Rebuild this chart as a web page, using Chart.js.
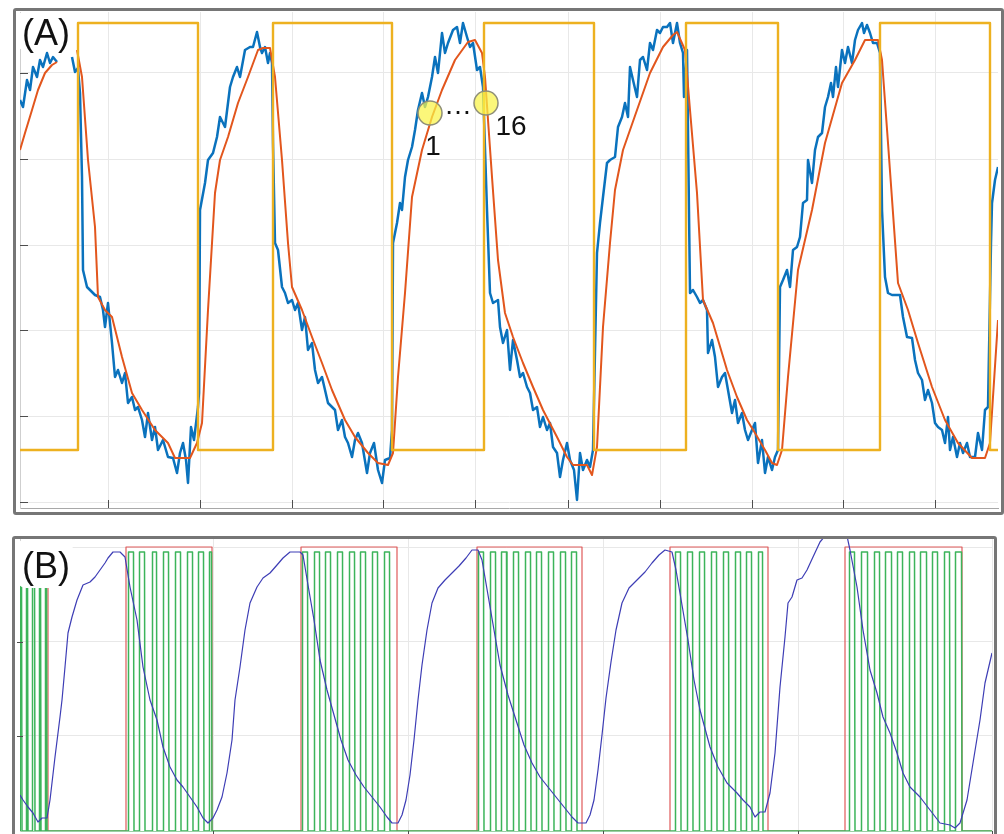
<!DOCTYPE html>
<html>
<head>
<meta charset="utf-8">
<script src="https://cdn.jsdelivr.net/npm/chart.js@4.4.1/dist/chart.umd.min.js"></script>
<style>
html, body { margin:0; padding:0; background:#fff; width:1004px; height:834px; overflow:hidden; position:relative; }
.frame { position:absolute; box-sizing:border-box; border:3px solid #767676; border-radius:3px; background:#fff; }
#frameA { left:13px; top:8px; width:991px; height:507px; }
#frameB { left:12px; top:536px; width:985px; height:320px; }
canvas { position:absolute; left:0; }
#chartA { top:0; }
#chartB { top:520px; }
</style>
</head>
<body>
<div class="frame" id="frameA"></div>
<div class="frame" id="frameB"></div>
<canvas id="chartA" width="1004" height="520"></canvas>
<canvas id="chartB" width="1004" height="314"></canvas>
<script>
// ---- panel A : time axis in samples, amplitude in arbitrary units ----
const xTicksA = [88, 180, 272, 363, 455, 548, 640, 732, 823, 915];
const yTicksA = [0, 86, 172, 257, 343, 429];

// square-wave input: switching times, low / high level
const inputEdgesA = [58, 178, 253, 372, 464, 574, 666, 758, 860, 970];
const inputLowA = 52, inputHighA = 479;

// smoothed model output
const modelA = [[0,352],[5,369],[12,392],[18,412],[25,429],[32,437],[37,440],[47,null],[57,452],[62,425],[68,342],[75,275],[78,205],[85,192],[92,185],[102,145],[112,109],[122,92],[135,72],[148,59],[155,44],[170,44],[177,59],[182,79],[188,192],[195,309],[200,342],[208,365],[218,399],[228,425],[238,452],[243,454],[250,454],[255,425],[262,342],[268,259],[272,215],[282,192],[292,165],[302,139],[312,112],[325,82],[335,65],[348,49],[358,39],[368,37],[373,49],[378,125],[385,209],[392,305],[402,352],[412,385],[422,412],[435,442],[448,460],[455,462],[462,449],[465,425],[472,325],[478,242],[485,189],[493,165],[503,139],[513,115],[523,92],[537,65],[547,45],[553,37],[567,37],[572,27],[577,55],[583,175],[590,259],[595,312],[603,352],[617,392],[630,429],[643,455],[653,467],[657,470],[665,452],[670,392],[677,309],[683,202],[693,179],[707,132],[717,105],[727,82],[735,69],[745,52],[752,39],[757,37],[762,52],[768,125],[778,232],[792,292],[805,359],[822,419],[835,442],[845,462],[858,462],[862,442],[868,359],[878,219],[888,192],[898,159],[912,115],[925,82],[938,59],[952,44],[965,44],[970,59],[978,182]];

// measured (noisy) output
const measuredA = [[0,402],[3,395],[7,422],[10,412],[13,435],[17,425],[20,442],[23,435],[27,449],[30,439],[33,445],[37,440],[45,null],[52,445],[55,430],[58,434],[60,409],[62,325],[63,232],[67,215],[75,207],[80,205],[83,192],[85,175],[88,199],[92,159],[95,125],[98,132],[102,119],[105,129],[108,99],[112,105],[115,92],[118,95],[122,82],[125,65],[128,89],[132,62],[135,75],[138,52],[143,62],[148,45],[153,44],[157,29],[160,49],[163,59],[166,42],[168,19],[171,75],[174,62],[178,95],[179,109],[180,292],[185,319],[188,342],[193,349],[197,365],[200,385],[205,375],[210,415],[213,425],[217,435],[220,425],[225,452],[230,455],[233,455],[237,470],[240,455],[242,449],[245,455],[248,439],[250,449],[252,439],[253,359],[255,259],[258,252],[262,215],[265,209],[268,199],[272,202],[275,192],[278,199],[282,172],[285,185],[288,152],[292,159],[295,132],[298,119],[302,125],[305,112],[308,99],[312,95],[315,92],[318,72],[322,82],[325,65],[328,59],[332,45],[335,62],[338,69],[342,59],[347,29],[350,49],[354,59],[358,32],[362,19],[365,42],[370,44],[372,72],[373,259],[377,279],[380,299],[382,292],[385,325],[388,342],[392,355],[395,372],[398,392],[402,409],[405,395],[408,405],[412,425],[415,445],[418,429],[422,469],[425,449],[428,459],[433,472],[437,475],[440,459],[443,479],[447,465],[450,455],[453,459],[457,432],[460,435],[463,415],[467,292],[470,209],[473,199],[478,202],[480,175],[483,159],[487,172],[490,132],[493,162],[497,142],[500,125],[503,129],[507,115],[510,109],[513,92],[517,95],[520,75],[523,85],[527,72],[530,79],[533,55],[537,49],[540,25],[543,42],[547,59],[550,42],[554,32],[557,2],[560,49],[563,32],[567,42],[570,35],[573,52],[577,249],[580,279],[583,305],[587,339],[590,342],[595,345],[598,375],[602,385],[605,399],[608,385],[610,435],[613,422],[617,405],[620,442],[623,445],[627,432],[630,459],[633,452],[637,472],[640,469],[643,475],[647,475],[650,479],[653,459],[657,479],[660,459],[663,449],[664,405],[667,452],[670,209],[673,212],[677,205],[680,199],[683,202],[687,192],[688,149],[692,162],[695,145],[698,115],[702,125],[705,129],[708,112],[712,89],[715,102],[718,79],[722,89],[725,72],[728,62],[732,72],[735,79],[738,39],[742,62],[745,29],[748,45],[752,32],[755,45],[758,52],[760,215],[763,222],[767,232],[770,215],[773,252],[777,255],[780,265],[783,299],[787,302],[788,342],[792,319],[795,352],[798,365],[802,369],[805,395],[808,405],[811,419],[813,405],[816,435],[818,415],[822,452],[825,439],[828,455],[832,439],[835,462],[838,472],[842,479],[844,469],[847,477],[850,469],[853,459],[857,459],[860,449],[862,292],[865,225],[868,209],[872,207],[880,207],[883,185],[887,165],[892,164],[895,142],[898,129],[902,122],[905,102],[908,112],[912,99],[915,79],[918,75],[922,72],[925,59],[928,85],[930,52],[933,65],[937,45],[940,59],[943,49],[947,59],[950,45],[955,45],[958,69],[962,52],[965,92],[968,95],[971,259],[972,299],[975,322],[978,335]];

// highlighted samples "1" ... "16"
const markerX = [410, 466];
const markerY = [389, 399];
const markerText = ["1", "16"];

// ---- panel B ----
const xTicksB = [193, 388, 583, 778, 972];
const yTicksB = [0, 95, 189, 284];

const windowEdgesB = [28, 106, 192, 281, 377, 457, 562, 650, 748, 825, 942];
const windowHighB = 284;

const pwmOnB  = [0,6,12,19,25, 108,119,132,143,155,167,178,189, 282,294,305,317,329,340,352,364, 458,470,481,493,505,516,528,540,551, 655,667,679,691,703,715,726,738, 829,841,854,865,877,889,900,912,924,935];
const pwmOffB = [2,8,15,21,27, 114,125,137,149,161,173,184,192, 288,300,311,323,335,346,358,370, 464,476,487,499,511,522,534,546,557, 661,673,685,697,709,721,732,743, 835,848,860,872,883,895,907,918,930,942];
const pwmTopB = 279;

const responseB = [[0,36],[3,31],[8,24],[13,18],[18,9],[22,13],[27,13],[30,31],[35,74],[40,114],[42,131],[45,164],[48,198],[52,214],[57,231],[63,246],[70,249],[75,254],[80,261],[85,268],[88,273],[93,279],[100,279],[105,274],[110,244],[117,211],[123,164],[130,131],[137,111],[143,84],[150,64],[157,51],[163,44],[170,34],[177,24],[183,13],[188,8],[193,13],[197,21],[202,34],[207,58],[212,91],[215,131],[220,164],[225,201],[230,228],[237,244],[243,253],[250,258],[257,266],[263,273],[270,279],[280,279],[283,276],[288,246],[294,211],[300,171],[307,141],[314,116],[321,91],[328,71],[336,56],[344,44],[352,34],[360,24],[367,14],[372,8],[378,8],[382,16],[386,31],[390,56],[394,91],[398,131],[402,166],[407,201],[412,228],[418,243],[425,251],[432,258],[439,265],[446,273],[452,281],[458,281],[462,271],[468,236],[474,201],[480,166],[488,136],[496,111],[504,86],[512,68],[520,54],[528,44],[536,34],[544,24],[552,14],[558,8],[566,8],[570,16],[574,31],[578,61],[582,96],[586,133],[591,169],[596,201],[602,228],[609,243],[617,251],[625,259],[632,268],[639,276],[645,281],[652,279],[656,261],[662,226],[668,191],[674,151],[680,121],[690,84],[698,64],[707,48],[717,38],[723,31],[730,24],[735,14],[740,19],[745,19],[750,38],[755,78],[760,144],[765,194],[768,228],[772,234],[777,251],[782,253],[787,261],[793,274],[800,289],[805,295],[827,295],[830,281],[837,244],[843,201],[850,161],[857,138],[863,114],[870,98],[877,78],[883,58],[890,44],[900,34],[910,21],[920,8],[930,6],[935,3],[940,8],[947,31],[953,68],[960,111],[965,148],[972,178]];

function squareWave(edges, lo, hi, startHigh, xEnd) {
  let cur = startHigh ? hi : lo;
  const pts = [[0, cur]];
  edges.forEach(e => {
    pts.push([e, cur]);
    cur = (cur === hi) ? lo : hi;
    pts.push([e, cur]);
  });
  pts.push([xEnd, cur]);
  return pts;
}

function pulseTrain(on, off, top, xEnd) {
  const pts = [[0, 0]];
  on.forEach((t, i) => {
    pts.push([t, 0], [t + 0.5, top], [off[i] - 0.5, top], [off[i], 0]);
  });
  pts.push([xEnd, 0]);
  return pts;
}

const LABEL_FONT = '"Liberation Sans", Arial, sans-serif';

// inner tick marks, panel letter and the sample annotations
const decor = {
  id: 'decor',
  afterDatasetsDraw(chart, args, o) {
    const ctx = chart.ctx, a = chart.chartArea;
    const xs = chart.scales.x, ys = chart.scales.y;
    ctx.save();
    ctx.strokeStyle = o.tickColor;
    ctx.lineWidth = 1;
    ctx.beginPath();
    o.xTicks.forEach(v => {
      const px = Math.round(xs.getPixelForValue(v)) + 0.5;
      ctx.moveTo(px, a.bottom + o.xTick[0]);
      ctx.lineTo(px, a.bottom + o.xTick[1]);
    });
    o.yTicks.forEach(v => {
      const py = Math.round(ys.getPixelForValue(v)) + 0.5;
      ctx.moveTo(a.left + o.yTick[0], py);
      ctx.lineTo(a.left + o.yTick[1], py);
    });
    ctx.stroke();

    // panel letter on a white patch
    const L = o.label;
    ctx.fillStyle = '#fff';
    ctx.beginPath();
    ctx.roundRect(L.blob[0], L.blob[1], L.blob[2], L.blob[3], 10);
    ctx.fill();
    ctx.fillStyle = '#111';
    ctx.font = `${L.size}px ${LABEL_FONT}`;
    ctx.textBaseline = 'alphabetic';
    ctx.textAlign = 'left';
    ctx.fillText(L.text, L.x, L.y);

    if (o.markers) {
      const p = chart.getDatasetMeta(o.markers.dataset).data;
      ctx.font = `28px ${LABEL_FONT}`;
      ctx.textAlign = 'center';
      ctx.fillText(markerText[0], p[0].x + 3, p[0].y + 42);
      ctx.fillText(markerText[1], p[1].x + 25, p[1].y + 32);
      ctx.fillText('\u2026', (p[0].x + p[1].x) / 2, (p[0].y + p[1].y) / 2 + 6);
    }
    ctx.restore();
  }
};

function fixedTicks(list) {
  return s => { s.ticks = list.map(v => ({ value: v })); };
}

function axes(xMin, xMax, yMin, yMax, xt, yt, xBorder, yBorder) {
  return {
    x: {
      type: 'linear', min: xMin, max: xMax,
      afterBuildTicks: fixedTicks(xt),
      ticks: { display: false },
      grid: { color: '#e8e8e8', drawTicks: false },
      border: { display: true, color: xBorder }
    },
    y: {
      type: 'linear', min: yMin, max: yMax,
      afterBuildTicks: fixedTicks(yt),
      ticks: { display: false },
      grid: { color: '#e8e8e8', drawTicks: false },
      border: { display: true, color: yBorder }
    }
  };
}

const baseOpts = {
  responsive: false,
  animation: false,
  events: [],
  elements: { point: { radius: 0 }, line: { tension: 0, borderJoinStyle: 'round' } },
};

new Chart(document.getElementById('chartA'), {
  type: 'line',
  data: {
    datasets: [
      {
        label: 'samples',
        data: markerX.map((x, i) => [x, markerY[i]]),
        showLine: false,
        pointRadius: 12,
        pointBackgroundColor: 'rgba(250,244,70,0.72)',
        pointBorderColor: '#8f8f78',
        pointBorderWidth: 1.5
      },
      { label: 'input', data: squareWave(inputEdgesA, inputLowA, inputHighA, false, 978), borderColor: '#EDB120', borderWidth: 2.4 },
      { label: 'model', data: modelA, borderColor: '#E2561D', borderWidth: 2, spanGaps: false },
      { label: 'measured', data: measuredA, borderColor: '#0A72BD', borderWidth: 2.5, spanGaps: false }
    ]
  },
  options: {
    ...baseOpts,
    layout: { padding: { left: 20, right: 6, top: 12, bottom: 12 }, autoPadding: false },
    scales: axes(0, 978, -6, 490, xTicksA, yTicksA, '#a8a8a8', '#cfcfcf'),
    plugins: {
      legend: { display: false },
      tooltip: { enabled: false },
      decor: {
        tickColor: '#4d4d4d',
        xTicks: xTicksA, yTicks: yTicksA,
        xTick: [-8, 0], yTick: [0, 8],
        label: { text: '(A)', x: 22, y: 45, size: 36, blob: [16, 11, 58, 40] },
        markers: { dataset: 0 }
      }
    }
  },
  plugins: [decor]
});

new Chart(document.getElementById('chartB'), {
  type: 'line',
  data: {
    datasets: [
      { label: 'response', data: responseB, borderColor: '#3d3db5', borderWidth: 1.2 },
      { label: 'pwm', data: pulseTrain(pwmOnB, pwmOffB, pwmTopB, 972), borderColor: '#3cb45a', borderWidth: 1.5 },
      { label: 'window', data: squareWave(windowEdgesB, 0, windowHighB, true, 972), borderColor: '#e05a5a', borderWidth: 1.2 }
    ]
  },
  options: {
    ...baseOpts,
    layout: { padding: { left: 20, right: 12, top: 19, bottom: 3 }, autoPadding: false },
    scales: axes(0, 972, 0, 292, xTicksB, yTicksB, '#9ad0a5', '#cfcfcf'),
    plugins: {
      legend: { display: false },
      tooltip: { enabled: false },
      decor: {
        tickColor: '#4d4d4d',
        xTicks: xTicksB, yTicks: yTicksB.slice(1, 3),
        xTick: [0, 4], yTick: [-3, 3],
        label: { text: '(B)', x: 22, y: 58, size: 36, blob: [16, 19, 57, 49] }
      }
    }
  },
  plugins: [decor]
});
</script>
</body>
</html>
